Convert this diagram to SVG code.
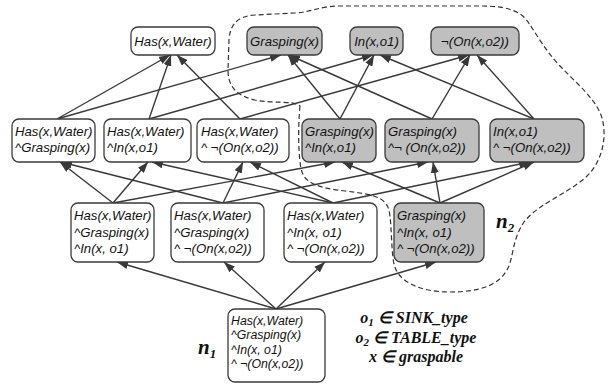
<svg xmlns="http://www.w3.org/2000/svg" width="609" height="385" viewBox="0 0 609 385">
<style>
.b{fill:#fff;stroke:#3a3a3a;stroke-width:1.3}
.g{fill:#bfbfbf;stroke:#3a3a3a;stroke-width:1.3}
.t{font-family:"Liberation Sans",Arial,sans-serif;font-style:italic;font-size:13.2px;fill:#111}
.s{font-size:12.3px}
.c{text-anchor:middle}
.e{stroke:#383838;stroke-width:1.4;fill:none;marker-end:url(#ah)}
.m{font-family:"Liberation Serif","Times New Roman",serif;font-weight:bold;font-style:italic;fill:#111}
.d{fill:none;stroke:#333;stroke-width:1.2;stroke-dasharray:5,3}
</style>
<defs>
<marker id="ah" markerWidth="11" markerHeight="8" refX="11" refY="4" orient="auto" markerUnits="userSpaceOnUse"><path d="M0,0 L11,4 L0,8 z" fill="#383838"/></marker>
</defs>
<path class="d" d="M300,106 C298,125 298,160 302,172 C306,184 320,188 345,191 C370,194 385,196 389,210 C392,225 391,250 394,264 C398,282 420,292 450,292 C480,292 500,285 508,268 C514,255 512,240 524,222 C538,204 565,195 585,178 C603,162 608,135 601,115 C594,97 575,82 560,66 C545,50 537,35 528,22 C520,10 505,6 480,6 L340,6 C320,6 312,12 295,13 L255,15 C238,16 230,24 229,40 L228,70 C228,88 238,96 255,100 C275,104 292,100 300,106 Z"/>
<g id="edges">
<line class="e" x1="57" y1="119" x2="170" y2="55"/>
<line class="e" x1="149" y1="119" x2="171" y2="55"/>
<line class="e" x1="240" y1="119" x2="177" y2="55"/>
<line class="e" x1="57" y1="119" x2="281" y2="55"/>
<line class="e" x1="340" y1="119" x2="288" y2="55"/>
<line class="e" x1="432" y1="119" x2="289" y2="55"/>
<line class="e" x1="149" y1="119" x2="373" y2="55"/>
<line class="e" x1="340" y1="119" x2="374" y2="55"/>
<line class="e" x1="534" y1="119" x2="380" y2="55"/>
<line class="e" x1="240" y1="119" x2="469" y2="55"/>
<line class="e" x1="432" y1="119" x2="470" y2="55"/>
<line class="e" x1="534" y1="119" x2="477" y2="55"/>
<line class="e" x1="113" y1="203" x2="60" y2="162"/>
<line class="e" x1="223" y1="203" x2="61" y2="162"/>
<line class="e" x1="113" y1="203" x2="148" y2="162"/>
<line class="e" x1="333" y1="203" x2="152" y2="162"/>
<line class="e" x1="223" y1="203" x2="243" y2="162"/>
<line class="e" x1="333" y1="203" x2="250" y2="162"/>
<line class="e" x1="113" y1="203" x2="335" y2="162"/>
<line class="e" x1="440" y1="203" x2="342" y2="162"/>
<line class="e" x1="223" y1="203" x2="428" y2="162"/>
<line class="e" x1="440" y1="203" x2="433" y2="162"/>
<line class="e" x1="333" y1="203" x2="530" y2="162"/>
<line class="e" x1="440" y1="203" x2="534" y2="162"/>
<line class="e" x1="276" y1="309" x2="117" y2="262"/>
<line class="e" x1="276" y1="309" x2="224" y2="262"/>
<line class="e" x1="276" y1="309" x2="325" y2="262"/>
<line class="e" x1="276" y1="309" x2="436" y2="262"/>
</g>
<g id="t1"><rect class="b" x="131" y="27" width="84" height="28" rx="7"/><text class="t c" x="173" y="46">Has(x,Water)</text></g>
<g id="t2"><rect class="g" x="247" y="27" width="75" height="28" rx="7"/><text class="t c" x="284.5" y="46">Grasping(x)</text></g>
<g id="t3"><rect class="g" x="350" y="27" width="53" height="28" rx="7"/><text class="t c" x="376.5" y="46">In(x,o1)</text></g>
<g id="t4"><rect class="g" x="431" y="27" width="88" height="28" rx="7"/><text class="t c" x="475" y="46">¬(On(x,o2))</text></g>
<g id="m1"><rect class="b" x="12" y="119" width="83" height="43" rx="7"/><text class="t" x="15" y="136">Has(x,Water)<tspan x="15" y="152">^Grasping(x)</tspan></text></g>
<g id="m2"><rect class="b" x="104" y="119" width="87" height="43" rx="7"/><text class="t" x="107" y="136">Has(x,Water)<tspan x="107" y="152">^In(x,o1)</tspan></text></g>
<g id="m3"><rect class="b" x="197" y="119" width="92" height="43" rx="7"/><text class="t" x="201" y="136">Has(x,Water)<tspan x="201" y="152">^ ¬(On(x,o2))</tspan></text></g>
<g id="m4"><rect class="g" x="302" y="119" width="74" height="43" rx="7"/><text class="t" x="305" y="136">Grasping(x)<tspan x="305" y="152">^In(x,o1)</tspan></text></g>
<g id="m5"><rect class="g" x="385" y="119" width="94" height="43" rx="7"/><text class="t" x="388" y="136">Grasping(x)<tspan x="388" y="152">^¬ (On(x,o2))</tspan></text></g>
<g id="m6"><rect class="g" x="490" y="119" width="94" height="43" rx="7"/><text class="t" x="493" y="136">In(x,o1)<tspan x="493" y="152">^ ¬(On(x,o2))</tspan></text></g>
<g id="r1"><rect class="b" x="71" y="203" width="83" height="59" rx="7"/><text class="t" x="74" y="220">Has(x,Water)<tspan x="74" y="237">^Grasping(x)</tspan><tspan x="74" y="253">^In(x, o1)</tspan></text></g>
<g id="r2"><rect class="b" x="171" y="203" width="93" height="59" rx="7"/><text class="t" x="174" y="220">Has(x,Water)<tspan x="174" y="237">^Grasping(x)</tspan><tspan x="174" y="253">^ ¬(On(x,o2))</tspan></text></g>
<g id="r3"><rect class="b" x="284" y="203" width="93" height="59" rx="7"/><text class="t" x="287" y="220">Has(x,Water)<tspan x="287" y="237">^In(x, o1)</tspan><tspan x="287" y="253">^ ¬(On(x,o2))</tspan></text></g>
<g id="r4"><rect class="g" x="394" y="203" width="90" height="59" rx="7"/><text class="t" x="397" y="220">Grasping(x)<tspan x="397" y="237">^In(x, o1)</tspan><tspan x="397" y="253">^ ¬(On(x,o2))</tspan></text></g>
<g id="n1box"><rect class="b" x="228" y="309" width="97" height="73" rx="7"/><text class="t s" x="231" y="325">Has(x,Water)<tspan x="231" y="339">^Grasping(x)</tspan><tspan x="231" y="354">^In(x, o1)</tspan><tspan x="231" y="368">^ ¬(On(x,o2))</tspan></text></g>
<text class="m" x="496" y="228" font-size="21">n<tspan font-size="13" dy="4">2</tspan></text>
<text class="m" x="198" y="354" font-size="21">n<tspan font-size="13" dy="4">1</tspan></text>
<g id="legend">
<text class="m c" x="414" y="323" font-size="16">o<tspan font-size="11" dy="3">1</tspan><tspan dy="-3"> ∈ SINK_type</tspan></text>
<text class="m c" x="416" y="343" font-size="16">o<tspan font-size="11" dy="3">2</tspan><tspan dy="-3"> ∈ TABLE_type</tspan></text>
<text class="m c" x="416" y="362" font-size="16">x ∈ graspable</text>
</g>
</svg>
